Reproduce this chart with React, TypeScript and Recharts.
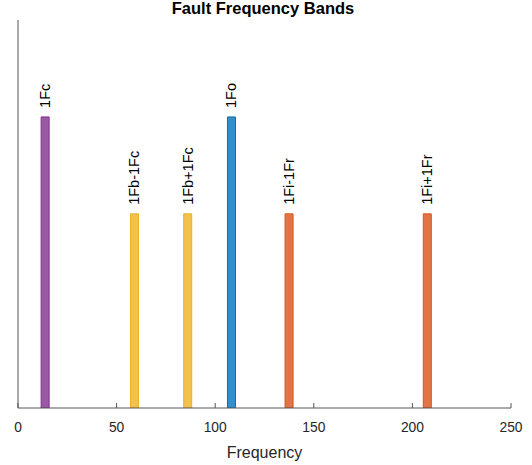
import React from 'react';
import { BarChart, Bar, XAxis, YAxis, Cell, LabelList } from 'recharts';

const bandNames = ['1Fc', '1Fb-1Fc', '1Fb+1Fc', '1Fo', '1Fi-1Fr', '1Fi+1Fr'];
const bandFrequencies = [13.7, 59.0, 86.0, 108.2, 137.4, 207.5];
const bandAmplitudes = [1, 0.667, 0.667, 1, 0.667, 0.667];
const faceColors = ['#9859a5', '#f1c14d', '#f1c14d', '#338eca', '#e17547', '#e17547'];
const edgeColors = ['#7e2f8e', '#edb120', '#edb120', '#0072bd', '#d95319', '#d95319'];
const xTicks = [0, 50, 100, 150, 200, 250];

const data = bandNames.map((name, i) => ({
  name,
  freq: bandFrequencies[i],
  amp: bandAmplitudes[i],
}));

const FONT = 'Liberation Sans, Arial, Helvetica, sans-serif';

const TickMark = (props: any) => {
  const { x, y, payload } = props;
  return (
    <g>
      <line x1={x} y1={y} x2={x} y2={y - 5} stroke="#555" strokeWidth={1} />
      <text x={x} y={y + 24} textAnchor="middle" fontSize={13.8} fill="#262626" fontFamily={FONT}>
        {payload.value}
      </text>
    </g>
  );
};

const BandLabel = (props: any) => {
  const { x, y, width, value } = props;
  const cx = x + width / 2 + 5;
  const cy = y - 9;
  return (
    <text
      x={cx}
      y={cy}
      transform={`rotate(-90, ${cx}, ${cy})`}
      textAnchor="start"
      fontSize={14.5}
      fill="#000"
      fontFamily={FONT}
    >
      {value}
    </text>
  );
};

export default function App() {
  return (
    <div style={{ position: 'absolute', left: 0, top: 0, width: 532, height: 465, background: '#fff' }}>
      <div
        style={{
          position: 'absolute',
          left: 0,
          width: 532,
          top: -2,
          textAlign: 'center',
          fontFamily: FONT,
          fontWeight: 'bold',
          fontSize: 16.5,
          color: '#000',
          lineHeight: '20px',
          paddingRight: 6,
          boxSizing: 'border-box',
        }}
      >
        Fault Frequency Bands
      </div>
      <BarChart
        width={532}
        height={465}
        data={data}
        margin={{ top: 20, right: 21, left: 17, bottom: 56 }}
        barSize={8}
      >
        <XAxis
          type="number"
          dataKey="freq"
          domain={[0, 250]}
          ticks={xTicks}
          allowDataOverflow
          axisLine={{ stroke: '#555' }}
          tickLine={false}
          tickSize={0}
          tickMargin={0}
          tick={<TickMark />}
          height={1}
          interval={0}
        />
        <YAxis
          type="number"
          domain={[0, 1.333]}
          allowDataOverflow
          width={1}
          tick={false}
          tickLine={false}
          axisLine={{ stroke: '#555' }}
        />
        <Bar dataKey="amp" isAnimationActive={false} strokeWidth={1}>
          {data.map((d, i) => (
            <Cell key={d.name} fill={faceColors[i]} stroke={edgeColors[i]} />
          ))}
          <LabelList dataKey="name" content={<BandLabel />} />
        </Bar>
      </BarChart>
      <div
        style={{
          position: 'absolute',
          left: 18,
          width: 493,
          top: 443,
          textAlign: 'center',
          fontFamily: FONT,
          fontSize: 16,
          color: '#262626',
          lineHeight: '20px',
        }}
      >
        Frequency
      </div>
    </div>
  );
}
